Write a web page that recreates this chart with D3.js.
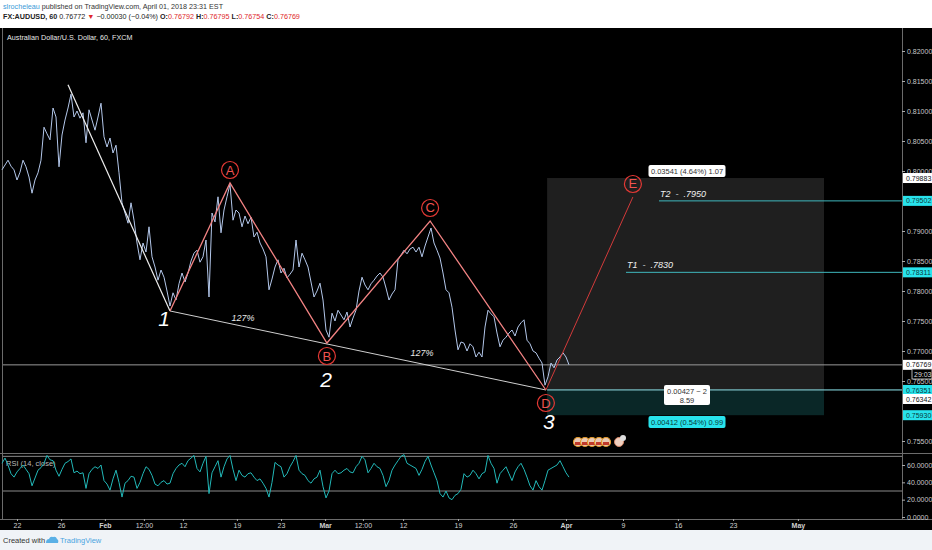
<!DOCTYPE html>
<html><head><meta charset="utf-8">
<script src="https://cdn.jsdelivr.net/npm/d3@7"></script>
<style>
body{margin:0;background:#fff;}
svg{display:block;font-family:"Liberation Sans",Arial,sans-serif;}
</style>
</head><body>
<svg id="c" width="932" height="550"></svg>
<script>
// ---------- DATA ----------
const priceValues = [
0.8002,0.8010,0.8018,0.8008,0.8002,0.7985,0.7998,0.8018,0.8007,0.7990,
0.7963,0.7985,0.7997,0.8018,0.8073,0.8062,0.8052,0.8105,0.8090,0.8007,
0.8060,0.8085,0.8105,0.8128,0.8090,0.8100,0.8088,0.8097,0.8047,0.8102,
0.8085,0.8068,0.8090,0.8113,0.8057,0.8040,0.8055,0.8030,0.8043,0.7997,
0.7947,0.7930,0.7913,0.7947,0.7918,0.7880,0.7852,0.7880,0.7865,0.7907,
0.7857,0.7840,0.7818,0.7835,0.7823,0.7800,0.7775,0.7797,0.7785,0.7812,
0.7830,0.7815,0.7830,0.7850,0.7863,0.7868,0.7848,0.7857,0.7885,0.7790,
0.7930,0.7915,0.7957,0.7897,0.7935,0.7957,0.7978,0.7918,0.7935,0.7930,
0.7907,0.7925,0.7912,0.7923,0.7890,0.7898,0.7880,0.7870,0.7857,0.7802,
0.7820,0.7840,0.7852,0.7830,0.7838,0.7822,0.7828,0.7835,0.7885,0.7840,
0.7863,0.7852,0.7840,0.7815,0.7790,0.7800,0.7813,0.7785,0.7735,0.7723,
0.7763,0.7750,0.7768,0.7760,0.7752,0.7765,0.7740,0.7755,0.7768,0.7800,
0.7823,0.7810,0.7802,0.7812,0.7818,0.7825,0.7830,0.7823,0.7805,0.7785,
0.7795,0.7802,0.7852,0.7860,0.7868,0.7862,0.7870,0.7873,0.7865,0.7873,
0.7857,0.7875,0.7890,0.7905,0.7880,0.7868,0.7855,0.7830,0.7802,0.7797,
0.7773,0.7735,0.7702,0.7715,0.7713,0.7700,0.7712,0.7707,0.7690,0.7698,
0.7690,0.7740,0.7768,0.7762,0.7757,0.7730,0.7707,0.7718,0.7723,0.7730,
0.7735,0.7725,0.7740,0.7747,0.7752,0.7718,0.7712,0.7700,0.7697,0.7688,
0.7680,0.7643,0.7657,0.7680,0.7672,0.7685,0.7690,0.7697,0.7690,0.7677
];
const rsiValues = [
62,68,60,50,46,52,56,60,55,50,
36,45,54,57,62,71,66,65,54,47,
55,62,64,67,51,53,50,51,33,50,
55,58,56,60,42,38,31,44,54,40,
23,39,42,47,46,33,40,50,58,55,
48,38,36,40,42,38,39,50,56,60,
62,58,65,68,71,56,52,62,70,27,
51,58,65,46,58,67,71,55,42,54,
48,46,50,51,46,42,44,39,33,23,
40,63,60,58,46,50,58,64,71,54,
50,48,42,39,44,46,54,35,22,30,
50,54,50,51,54,56,52,51,58,62,
70,66,51,56,62,58,56,48,35,42,
54,60,65,70,72,62,60,58,56,48,
55,64,70,60,51,42,27,23,30,22,
20,25,27,32,50,46,48,54,50,44,
50,52,71,62,56,39,50,54,58,50,
42,52,58,62,55,46,36,31,42,35,
31,42,54,56,58,60,65,58,51,46
];
const priceTicks = [0.755,0.765,0.77,0.775,0.78,0.785,0.79,0.80,0.805,0.81,0.815,0.82];
const rsiTicks = [0,20,40,60];
const rsiBands = [70,30];
const timeTickBars = [5,19.7,34.3,47.3,60.3,78.3,93,107.7,120.3,133.7,152,170.3,188,207,225.3,243.7,265.3];
const timeTickLabels = ["22","26","Feb","12:00","12","19","23","Mar","12:00","12","19","26","Apr","9","16","23","May"];
const boldTimeLabels = ["Feb","Mar","Apr","May"];

// wave drawing points (bar index, price)
const impulseBars = [22,56];
const impulsePrices = [0.81438,0.77667];
const trendBars = [56,181.3];
const trendPrices = [0.77667,0.7635];
const patternBars = [56,76,108.3,142.7,181.3];
const patternPrices = [0.77667,0.7980,0.77133,0.79167,0.7635];
const projBars = [181.3,210.3];
const projPrices = [0.7635,0.79567];
const letterNames = ["A","B","C","D","E"];
const letterBars = [76,108.3,142.7,181.3,210.3];
const letterPrices = [0.7980,0.77133,0.79167,0.7635,0.79567];
const letterSide = [-1,1,-1,1,-1];
const numberNames = ["1","2","3"];
const numberBars = [54,108,182.3];
const numberPrices = [0.77417,0.7640,0.7570];
const pctBars = [80.3,140];
const pctPrices = [0.77500,0.76917];

const lastPrice = 0.76769;
const entryLine = 0.76351;
const posEntry = 0.76342, posTarget = 0.79883, posStop = 0.7593;
const posBars = [181.7,274];
const targetNames = ["T2  -  .7950","T1  -  .7830"];
const targetPrices = [0.79502,0.78311];
const targetStartBars = [219,208];

const axisBadges = [
  {p:0.79883, t:"0.79883", bg:"#ffffff", fg:"#111"},
  {p:0.79502, t:"0.79502", bg:"#28e3ec", fg:"#0a3a3a"},
  {p:0.78311, t:"0.78311", bg:"#28e3ec", fg:"#0a3a3a"},
  {p:0.76769, t:"0.76769", bg:"#ffffff", fg:"#111"},
  {p:0.76351, t:"0.76351", bg:"#28e3ec", fg:"#0a3a3a"},
  {p:0.76200, t:"0.76342", bg:"#ffffff", fg:"#111"},
  {p:0.75930, t:"0.75930", bg:"#28e3ec", fg:"#0a3a3a"}
];

// ---------- SCALES ----------
const svg = d3.select("#c");
const x = d3.scaleLinear().domain([0,300]).range([2,902]);
const y = d3.scaleLinear().domain([0.755,0.82]).range([441,51]);
const ry = d3.scaleLinear().domain([0,60]).range([517,465]);

// ---------- BACKGROUND ----------
svg.append("rect").attr("x",0).attr("y",0).attr("width",932).attr("height",28).attr("fill","#ffffff");
svg.append("rect").attr("x",0).attr("y",28).attr("width",932).attr("height",502).attr("fill","#000000");
svg.append("rect").attr("x",0).attr("y",530).attr("width",932).attr("height",20).attr("fill","#f0f3f7");

// header text
const h1 = svg.append("text").attr("x",3).attr("y",9).attr("font-size",7.2).attr("fill","#333");
h1.append("tspan").attr("fill","#3c9ad8").text("slrocheleau");
h1.append("tspan").text(" published on TradingView.com, April 01, 2018 23:31 EST");
const h2 = svg.append("text").attr("x",3).attr("y",19).attr("font-size",7.2).attr("fill","#222");
h2.append("tspan").attr("font-weight","bold").text("FX:AUDUSD, 60 ");
h2.append("tspan").text("0.76772 ");
h2.append("tspan").attr("fill","#e0262a").text("▼");
h2.append("tspan").text(" −0.00030 (−0.04%) ");
[["O:","0.76792"],["H:","0.76795"],["L:","0.76754"],["C:","0.76769"]].forEach(([k,v])=>{
  h2.append("tspan").attr("font-weight","bold").text(k);
  h2.append("tspan").attr("fill","#e0262a").text(v+" ");
});

// frame lines
const frame = svg.append("g").attr("stroke","#6b6b6b").attr("stroke-width",1);
frame.append("line").attr("x1",2.5).attr("x2",2.5).attr("y1",28).attr("y2",519);
frame.append("line").attr("x1",902.5).attr("x2",902.5).attr("y1",28).attr("y2",519);
frame.append("line").attr("x1",0).attr("x2",932).attr("y1",453.5).attr("y2",453.5);
frame.append("line").attr("x1",0).attr("x2",932).attr("y1",519.5).attr("y2",519.5);

// title
svg.append("text").attr("x",7).attr("y",40).attr("font-size",7.2).attr("fill","#e8e8e8")
  .text("Australian Dollar/U.S. Dollar, 60, FXCM");

// ---------- LONG POSITION BOX ----------
svg.append("rect").attr("x",x(posBars[0])).attr("y",y(posTarget))
  .attr("width",x(posBars[1])-x(posBars[0])).attr("height",y(posEntry)-y(posTarget))
  .attr("fill","#1f1f1f");
svg.append("rect").attr("x",x(posBars[0])).attr("y",y(posEntry))
  .attr("width",x(posBars[1])-x(posBars[0])).attr("height",y(posStop)-y(posEntry))
  .attr("fill","#0a2727");

// horizontal lines
svg.append("line").attr("x1",3).attr("x2",902).attr("y1",y(lastPrice)).attr("y2",y(lastPrice))
  .attr("stroke","#9a9a9a").attr("stroke-width",1);
svg.append("line").attr("x1",x(posBars[0])).attr("x2",902).attr("y1",y(entryLine)).attr("y2",y(entryLine))
  .attr("stroke","#8fe9f0").attr("stroke-width",1);
targetPrices.forEach((p,i)=>{
  svg.append("line").attr("x1",x(targetStartBars[i])).attr("x2",902).attr("y1",y(p)).attr("y2",y(p))
    .attr("stroke","#3fb7bd").attr("stroke-width",1);
  svg.append("text").attr("x",x(targetStartBars[i])+1).attr("y",y(p)-4)
    .attr("font-size",9).attr("font-style","italic").attr("fill","#f0f0f0")
    .style("white-space","pre").text(targetNames[i]);
});

// ---------- PRICE LINE ----------
const line = d3.line().x((d,i)=>x(i)).y(d=>y(d));
svg.append("path").datum(priceValues).attr("d",line).attr("fill","none")
  .attr("stroke","#b3c7ea").attr("stroke-width",1);

// ---------- WAVE DRAWINGS ----------
const pl = d3.line().x(d=>x(d[0])).y(d=>y(d[1]));
svg.append("path").attr("d",pl(impulseBars.map((b,i)=>[b,impulsePrices[i]])))
  .attr("stroke","#eeeeee").attr("stroke-width",1.2).attr("fill","none");
svg.append("path").attr("d",pl(trendBars.map((b,i)=>[b,trendPrices[i]])))
  .attr("stroke","#cfcfcf").attr("stroke-width",1).attr("fill","none");
svg.append("path").attr("d",pl(patternBars.map((b,i)=>[b,patternPrices[i]])))
  .attr("stroke","#f28383").attr("stroke-width",1.3).attr("fill","none");
svg.append("path").attr("d",pl(projBars.map((b,i)=>[b,projPrices[i]])))
  .attr("stroke","#d23a3a").attr("stroke-width",1).attr("fill","none");

pctBars.forEach((b,i)=>{
  svg.append("text").attr("x",x(b)).attr("y",y(pctPrices[i])).attr("text-anchor","middle")
    .attr("font-size",9).attr("font-style","italic").attr("fill","#e8e8e8").text("127%");
});

letterNames.forEach((L,i)=>{
  const cx = x(letterBars[i]);
  const cy = y(letterPrices[i]) + letterSide[i]*13;
  svg.append("circle").attr("cx",cx).attr("cy",cy).attr("r",8.5)
    .attr("fill","none").attr("stroke","#e53935").attr("stroke-width",1.2);
  svg.append("text").attr("x",cx).attr("y",cy+4.5).attr("text-anchor","middle")
    .attr("font-size",13).attr("fill","#ef5350").text(L);
});
numberNames.forEach((n,i)=>{
  svg.append("text").attr("x",x(numberBars[i])).attr("y",y(numberPrices[i])).attr("text-anchor","middle")
    .attr("font-size",21).attr("font-style","italic").attr("fill","#ffffff").text(n);
});

// position labels
function box(cx,cy,w,h,lines,bg,fg){
  svg.append("rect").attr("x",cx-w/2).attr("y",cy-h/2).attr("width",w).attr("height",h)
    .attr("rx",2).attr("fill",bg);
  lines.forEach((t,k)=>{
    svg.append("text").attr("x",cx).attr("y",cy-h/2+8.5+k*9).attr("text-anchor","middle")
      .attr("font-size",7.5).attr("fill",fg).text(t);
  });
}
box(687,171,77,12,["0.03541 (4.64%) 1.07"],"#ffffff","#333");
box(687,395,46,20,["0.00427 ~ 2","8.59"],"#ffffff","#333");
box(687,422,77,12,["0.00412 (0.54%) 0.99"],"#28e3ec","#0a3a3a");

// event markers
const evX = [578,585,592,599,606];
evX.forEach((ex,i)=>{
  svg.append("circle").attr("cx",ex).attr("cy",442).attr("r",4.5)
    .attr("fill","#e8c9b4").attr("stroke","#e49a2a").attr("stroke-width",1.2);
  svg.append("rect").attr("x",ex-3).attr("y",442).attr("width",6).attr("height",3).attr("fill","#c0392b");
});
svg.append("circle").attr("cx",619).attr("cy",442).attr("r",4.5)
  .attr("fill","#f0d0c0").attr("stroke","#d98a6a").attr("stroke-width",1);
svg.append("circle").attr("cx",623).attr("cy",438).attr("r",3).attr("fill","#ddd");

// ---------- PRICE AXIS ----------
const pa = svg.append("g").attr("transform","translate(902,0)")
  .call(d3.axisRight(y).tickValues(priceTicks).tickSize(3).tickFormat(d3.format(".5f")));
pa.select(".domain").remove();
pa.selectAll("line").attr("stroke","#aaa");
pa.selectAll("text").attr("fill","#c8c8c8").attr("font-size",7).attr("x",5);

axisBadges.forEach(b=>{
  const cy = y(b.p);
  svg.append("rect").attr("x",903).attr("y",cy-5).attr("width",29).attr("height",10).attr("fill",b.bg);
  svg.append("text").attr("x",906).attr("y",cy+2.6).attr("font-size",7).attr("fill",b.fg).text(b.t);
});
svg.append("rect").attr("x",912).attr("y",369).attr("width",20).attr("height",10)
  .attr("fill","#000").attr("stroke","#ddd").attr("stroke-width",0.8);
svg.append("text").attr("x",914).attr("y",376.5).attr("font-size",7).attr("fill","#ddd").text("29:03");

// ---------- RSI PANEL ----------
rsiBands.forEach(v=>{
  svg.append("line").attr("x1",3).attr("x2",902).attr("y1",ry(v)).attr("y2",ry(v))
    .attr("stroke","#8a8a8a").attr("stroke-width",1);
});
svg.append("text").attr("x",6).attr("y",466).attr("font-size",7.5).attr("fill","#bbb").text("RSI (14, close)");
svg.append("path").datum(rsiValues).attr("d",d3.line().x((d,i)=>x(i)).y(d=>ry(d)))
  .attr("fill","none").attr("stroke","#22b8b8").attr("stroke-width",1);
const ra = svg.append("g").attr("transform","translate(902,0)")
  .call(d3.axisRight(ry).tickValues(rsiTicks).tickSize(3).tickFormat(d3.format(".4f")));
ra.select(".domain").remove();
ra.selectAll("line").attr("stroke","#aaa");
ra.selectAll("text").attr("fill","#c8c8c8").attr("font-size",7).attr("x",5);

// ---------- TIME AXIS ----------
const ta = svg.append("g").attr("transform","translate(0,519)")
  .call(d3.axisBottom(x).tickValues(timeTickBars).tickSize(2).tickFormat((d,i)=>timeTickLabels[i]));
ta.select(".domain").remove();
ta.selectAll("line").attr("stroke","#aaa");
ta.selectAll("text").attr("fill","#d0d0d0").attr("font-size",7).attr("dy","0.5em")
  .attr("font-weight",(d,i)=>boldTimeLabels.includes(timeTickLabels[i])?"bold":"normal");

// ---------- FOOTER ----------
svg.append("text").attr("x",3).attr("y",543).attr("font-size",7.5).attr("fill","#333").text("Created with");
const logo = svg.append("g").attr("transform","translate(46,536)");
logo.append("path").attr("d","M0,7 Q0,3 3,3 Q4,0 7,1 Q10,0 11,3 Q13,4 12,7 Z").attr("fill","#5ab0e6");
svg.append("text").attr("x",60).attr("y",543).attr("font-size",7.5).attr("fill","#4aa3df").text("TradingView");
</script>
</body></html>
